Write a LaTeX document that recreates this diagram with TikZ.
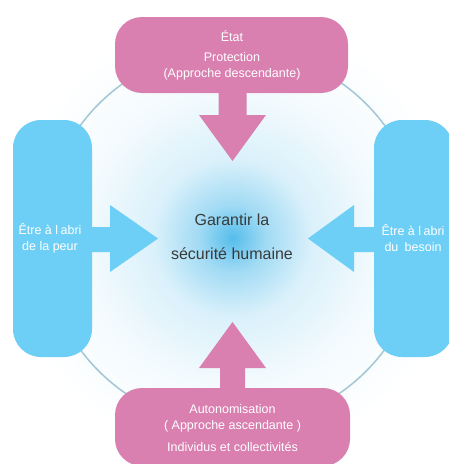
\documentclass[tikz,border=0pt]{standalone}
\usepackage{fontspec}
\setmainfont{Liberation Sans}
\definecolor{pinkc}{HTML}{D980B0}
\definecolor{bluec}{HTML}{6DCFF6}
\definecolor{ringc}{HTML}{A3C6D6}
\definecolor{glowc}{HTML}{55BDEB}
\definecolor{textc}{HTML}{3A3A3A}
\pgfdeclareradialshading{glowshade}{\pgfpoint{0bp}{0bp}}{color(0bp)=(glowc); color(3bp)=(glowc!55!white); color(7bp)=(glowc!22!white); color(13bp)=(glowc!7!white); color(20bp)=(white); color(50bp)=(white)}
\tikzset{
  pinkbox/.style={rectangle, rounded corners=27pt, fill=pinkc, draw=none},
  bluebox/.style={rectangle, rounded corners=28pt, fill=bluec, draw=none},
  boxtext/.style={text=white, align=center, font=\fontsize{12.5}{16}\selectfont, inner sep=0pt},
  pinkarrow/.style={fill=pinkc},
  bluearrow/.style={fill=bluec},
}
\begin{document}
\begin{tikzpicture}[x=1pt,y=-1pt]
\useasboundingbox (0,0) rectangle (448,464);
\fill[white] (0,0) rectangle (448,464);
\shade[shading=glowshade] (232.5,238) circle (280);
\node[draw=ringc, line width=1.5pt, circle, minimum size=378pt, inner sep=0pt] (ring) at (232.5,237.5) {};
% boxes
\node[pinkbox, minimum width=233pt, minimum height=76pt] (top) at (231.5,55) {};
\node[pinkbox, minimum width=235pt, minimum height=78pt] (bottom) at (232.5,427) {};
\node[bluebox, minimum width=79pt, minimum height=237pt] (left) at (52.5,238.5) {};
\node[bluebox, minimum width=79pt, minimum height=237pt] (right) at (413.5,238.5) {};
% arrows
\fill[pinkarrow] (218.5,91) -- (218.5,115) -- (199,115) -- (232.5,161) -- (266,115) -- (246.5,115) -- (246.5,91) -- cycle;
\fill[pinkarrow] (220,390) -- (220,368) -- (199,368) -- (232.5,322) -- (266,368) -- (245,368) -- (245,390) -- cycle;
\fill[bluearrow] (90,227) -- (110,227) -- (110,205) -- (158,238.5) -- (110,272) -- (110,252) -- (90,252) -- cycle;
\fill[bluearrow] (376,227) -- (354,227) -- (354,205) -- (308,238.5) -- (354,272) -- (354,252) -- (376,252) -- cycle;
% texts
\node[boxtext] (toptitle) at (232,36) {État};
\node[boxtext] (toptext) at (232,66) {Protection\\(Approche descendante)};
\node[boxtext] (bottext) at (232.5,418.5) {Autonomisation\\( Approche ascendante )};
\node[boxtext] (botsub) at (232.5,447) {Individus et collectivités};
\node[boxtext] (lefttext) at (50,238) {Être à l\hspace{0.2em}abri\\de la peur};
\node[boxtext] (righttext) at (413,238) {Être à l\hspace{0.2em}abri\\du\hspace{0.5em}besoin};
\node[text=textc, align=center, font=\fontsize{16}{34}\selectfont, inner sep=0pt] (goal) at (232,237) {Garantir la\\sécurité humaine};
\end{tikzpicture}
\end{document}
